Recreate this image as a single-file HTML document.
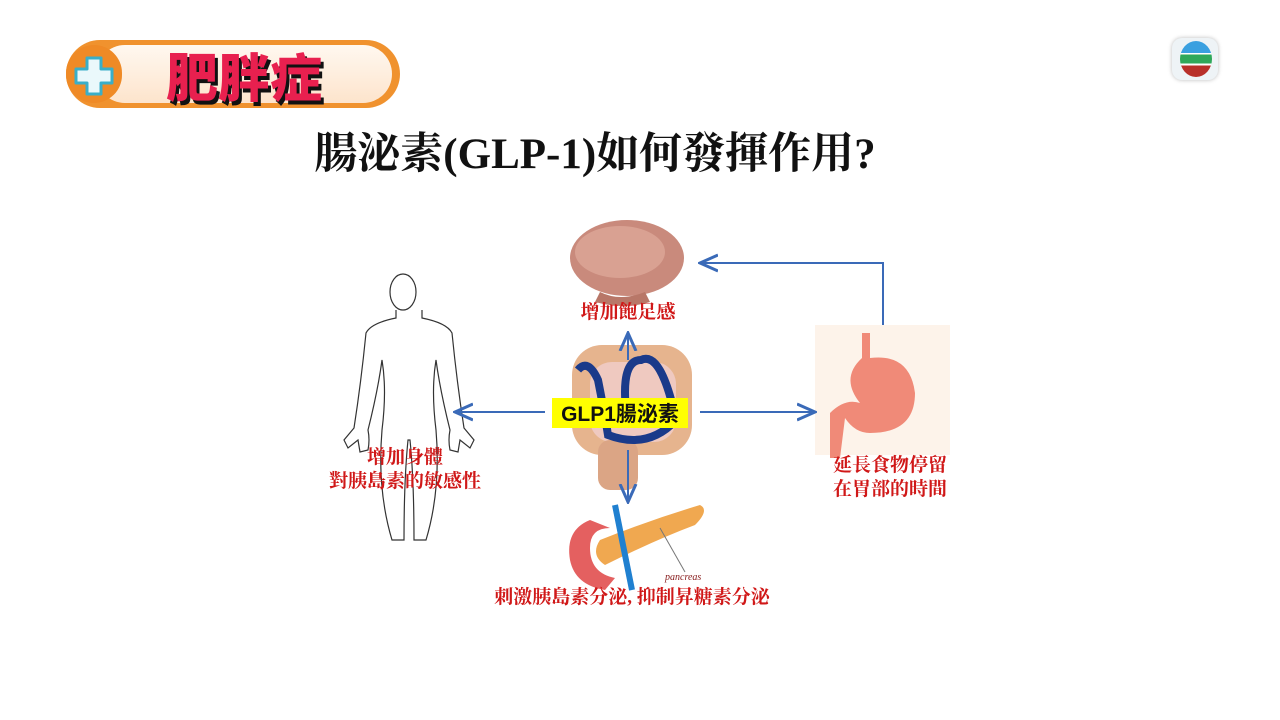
<!DOCTYPE html>
<html><head><meta charset="utf-8"><style>
html,body{margin:0;padding:0;background:#fff;}
body{width:1280px;height:720px;position:relative;overflow:hidden;font-family:"Liberation Sans","Noto Sans CJK TC",sans-serif;}
.abs{position:absolute;}
.title{left:0;width:1190px;top:120px;text-align:center;font-family:"Liberation Serif","Noto Serif CJK SC",serif;font-weight:bold;font-size:43px;color:#111;white-space:nowrap;}
.red{color:#d01818;font-size:19px;text-align:center;white-space:nowrap;line-height:24px;font-family:"Liberation Serif","Noto Serif CJK SC",serif;font-weight:bold;}
</style></head><body>
<!-- banner -->
<div class="abs" style="left:66px;top:40px;width:334px;height:68px;border-radius:34px;background:#f0922e;"></div>
<div class="abs" style="left:96px;top:45px;width:296px;height:58px;border-radius:29px;background:linear-gradient(#fff8f0,#fde4cc);"></div>
<div class="abs" style="left:66px;top:45px;width:56px;height:58px;border-radius:29px;background:#ef8a26;"></div>
<svg class="abs" style="left:70px;top:52px" width="48" height="48">
<path d="M17,6 h14 v11 h11 v14 h-11 v11 h-14 v-11 h-11 v-14 h11z" fill="#eaf8fb" stroke="#3aaec8" stroke-width="3" stroke-linejoin="round"/>
</svg>
<div class="abs" style="left:166px;top:44px;font-size:52px;font-weight:900;color:#e8204f;text-shadow:3px 4px 0 #111;font-family:'Noto Sans CJK TC',sans-serif;line-height:62px;">肥胖症</div>
<!-- TV logo -->
<div class="abs" style="left:1172px;top:38px;width:46px;height:42px;border-radius:10px;background:#eef3f6;box-shadow:0 0 4px #bbb;"></div>
<div class="abs" style="left:1180px;top:41px;width:32px;height:36px;border-radius:50%;overflow:hidden;background:linear-gradient(#3aa0e0 0,#3aa0e0 33%,#fff 33%,#fff 38%,#2fa85a 38%,#2fa85a 63%,#fff 63%,#fff 68%,#b8302a 68%);"></div>

<div class="abs title">腸泌素(GLP-1)如何發揮作用?</div>

<svg class="abs" style="left:0;top:0" width="1280" height="720">
<defs><marker id="ah" markerWidth="10" markerHeight="10" refX="8" refY="5" orient="auto"><path d="M0,1 L9,5 L0,9" fill="none" stroke="#3a6ab8" stroke-width="1.5"/></marker></defs>
<!-- brain -->
<ellipse cx="627" cy="258" rx="57" ry="38" fill="#c98a7c"/>
<ellipse cx="620" cy="252" rx="45" ry="26" fill="#d9a192"/>
<path d="M600,292 q20,10 45,0 l5,10 q-25,8 -55,0z" fill="#b87768"/>
<!-- intestines -->
<rect x="572" y="345" width="120" height="110" rx="30" fill="#e6b48e"/>
<rect x="590" y="362" width="86" height="80" rx="22" fill="#efc9c0"/>
<rect x="598" y="440" width="40" height="50" rx="12" fill="#dba585"/>
<path d="M578,370 q10,-12 20,10 q6,30 10,55 q40,15 68,-15 q-15,-70 -35,-60 q-20,0 -15,50" fill="none" stroke="#1a3a8a" stroke-width="8"/>
<!-- stomach -->
<rect x="815" y="325" width="135" height="130" fill="#fdf3ea"/>
<path d="M862,333 h8 v25 q40,-5 45,35 q0,40 -45,40 q-15,0 -25,-15 l-5,40 h-10 l0,-45 q15,-15 30,-10 q-20,-25 2,-45z" fill="#f08a78"/>
<!-- pancreas -->
<path d="M590,520 q-25,10 -20,40 q5,25 35,30 l10,-12 q-25,-5 -25,-30 q0,-20 20,-20z" fill="#e46060"/>
<path d="M600,540 q50,-20 100,-35 q10,5 -5,20 q-40,15 -90,40 q-15,-10 -5,-25z" fill="#f0a850"/>
<line x1="615" y1="505" x2="632" y2="590" stroke="#2080d0" stroke-width="6"/>
<line x1="660" y1="528" x2="685" y2="572" stroke="#777" stroke-width="1"/>
<!-- body -->
<g fill="none" stroke="#333" stroke-width="1.2">
<ellipse cx="403" cy="292" rx="13" ry="18"/>
<path d="M396,310 v8 q-25,5 -30,15 q-5,50 -12,95 l-10,12 l4,8 l10,-8 l2,12 l8,-2 q2,-10 0,-20 q10,-40 14,-70 q5,30 0,70 q-5,60 10,110 h12 q0,-60 4,-100 h2 q4,40 4,100 h12 q15,-50 10,-110 q-5,-40 0,-70 q4,30 14,70 q-2,10 0,20 l8,2 l2,-12 l10,8 l4,-8 l-10,-12 q-7,-45 -12,-95 q-5,-10 -30,-15 v-8"/>
</g>
<!-- connectors -->
<g stroke="#3a6ab8" stroke-width="2" fill="none">
<line x1="545" y1="412" x2="457" y2="412" marker-end="url(#ah)"/>
<line x1="700" y1="412" x2="813" y2="412" marker-end="url(#ah)"/>
<line x1="628" y1="360" x2="628" y2="335" marker-end="url(#ah)"/>
<line x1="628" y1="450" x2="628" y2="500" marker-end="url(#ah)"/>
<polyline points="883,325 883,263 702,263" marker-end="url(#ah)"/>
</g>
<rect x="552" y="398" width="136" height="30" fill="#ffff00"/>
<text x="620" y="421" text-anchor="middle" font-family="Liberation Sans, Noto Sans CJK TC, sans-serif" font-weight="bold" font-size="21" fill="#111">GLP1腸泌素</text>
<text x="665" y="580" font-family="Liberation Serif, serif" font-style="italic" font-size="10" fill="#8a2020">pancreas</text>
</svg>

<div class="abs red" style="left:528px;top:301px;width:200px;">增加飽足感</div>
<div class="abs red" style="left:305px;top:446px;width:200px;">增加身體<br>對胰島素的敏感性</div>
<div class="abs red" style="left:790px;top:454px;width:200px;">延長食物停留<br>在胃部的時間</div>
<div class="abs red" style="left:432px;top:586px;width:400px;">刺激胰島素分泌, 抑制昇糖素分泌</div>
</body></html>
